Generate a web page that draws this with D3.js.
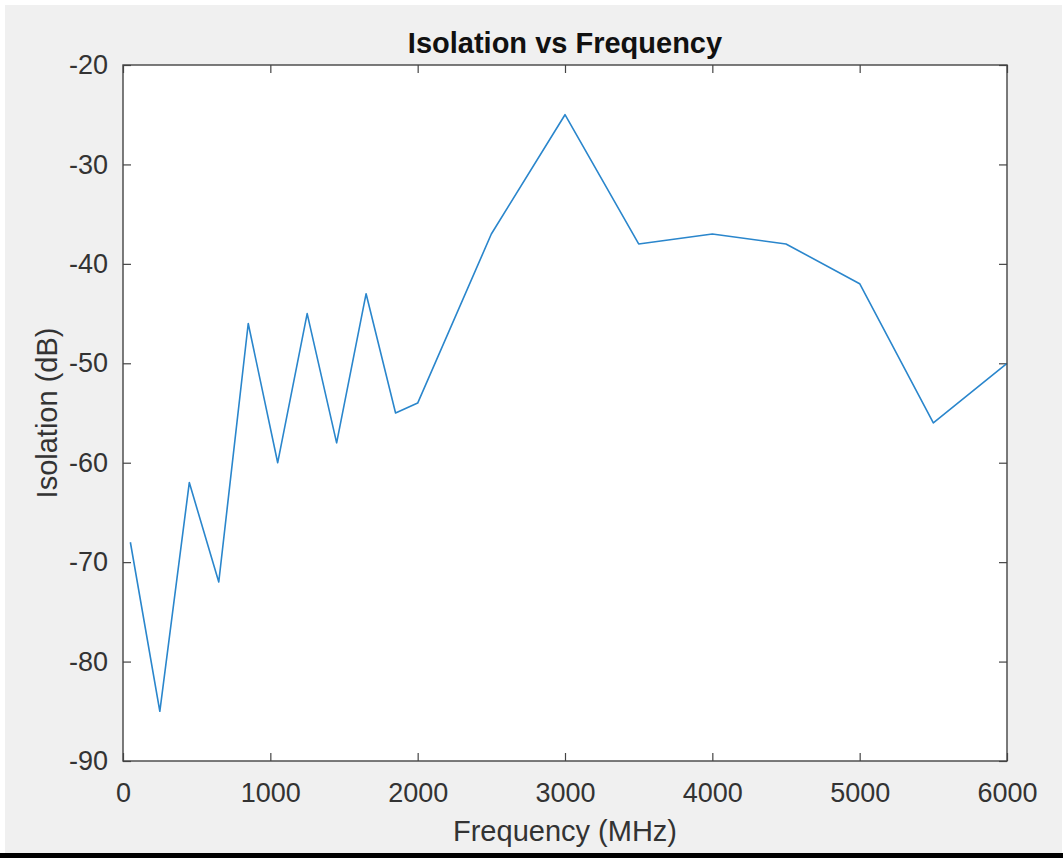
<!DOCTYPE html>
<html>
<head>
<meta charset="utf-8">
<script src="https://cdn.jsdelivr.net/npm/d3@7"></script>
<style>
  body { margin: 0; background: #fff; }
  svg { display: block; font-family: "Liberation Sans", Arial, Helvetica, sans-serif; }
</style>
</head>
<body>
<div id="chart"></div>
<script>
// Data
var freq = [50, 250, 450, 650, 850, 1050, 1250, 1450, 1650, 1850, 2000, 2500, 3000, 3500, 4000, 4500, 5000, 5500, 6000];
var isolation = [-68, -85, -62, -72, -46, -60, -45, -58, -43, -55, -54, -37, -25, -38, -37, -38, -42, -56, -50];
var xTicks = [0, 1000, 2000, 3000, 4000, 5000, 6000];
var yTicks = [-90, -80, -70, -60, -50, -40, -30, -20];

var W = 1063, H = 858;
var margin = {top: 65, right: 56, bottom: 97, left: 123};
var width = W - margin.left - margin.right,
    height = H - margin.top - margin.bottom;

var svg = d3.select("#chart").append("svg")
  .attr("width", W)
  .attr("height", H);

// figure background (matlab grey) + bottom black bar
svg.append("rect").attr("x", 5).attr("y", 5).attr("width", 1057).attr("height", 849).attr("fill", "#f0f0f0");
svg.append("rect").attr("x", 0).attr("y", 853).attr("width", W).attr("height", 5).attr("fill", "#000");

var g = svg.append("g")
  .attr("transform", "translate(" + margin.left + "," + margin.top + ")");

var xScale = d3.scaleLinear().domain([0, 6000]).range([0, width]);
var yScale = d3.scaleLinear().domain([-90, -20]).range([height, 0]);

g.append("rect").attr("width", width).attr("height", height).attr("fill", "#fff");

var axisColor = "#444";
var tickFont = "27px";
// plain hyphen for negatives, like matlab
var fmt = function(d) { return String(d); };

function styleAxis(sel) {
  sel.select(".domain").remove();
  sel.selectAll(".tick line").attr("stroke", axisColor).attr("stroke-width", 1.2);
  sel.selectAll(".tick text").attr("fill", "#333").style("font-size", tickFont);
}

// bottom axis (ticks inside)
g.append("g")
  .attr("transform", "translate(0," + height + ")")
  .call(d3.axisBottom(xScale).tickValues(xTicks).tickSize(-8).tickPadding(22).tickFormat(fmt))
  .call(styleAxis);

// top axis, ticks only
g.append("g")
  .call(d3.axisTop(xScale).tickValues(xTicks).tickSize(-8).tickFormat(""))
  .call(styleAxis);

// left axis
g.append("g")
  .call(d3.axisLeft(yScale).tickValues(yTicks).tickSize(-8).tickPadding(15).tickFormat(fmt))
  .call(styleAxis);

// right axis, ticks only
g.append("g")
  .attr("transform", "translate(" + width + ",0)")
  .call(d3.axisRight(yScale).tickValues(yTicks).tickSize(-8).tickFormat(""))
  .call(styleAxis);

// the data line
var line = d3.line()
  .x(function(d, i) { return xScale(freq[i]); })
  .y(function(d) { return yScale(d); });

g.append("path")
  .datum(isolation)
  .attr("fill", "none")
  .attr("stroke", "#2a86cc")
  .attr("stroke-width", 1.6)
  .attr("stroke-linejoin", "round")
  .attr("d", line);

// box
g.append("rect")
  .attr("width", width).attr("height", height)
  .attr("fill", "none")
  .attr("stroke", axisColor)
  .attr("stroke-width", 1.4);

// title and labels
svg.append("text")
  .attr("x", margin.left + width / 2)
  .attr("y", 53)
  .attr("text-anchor", "middle")
  .attr("font-weight", "bold")
  .style("font-size", "29px")
  .attr("fill", "#111")
  .text("Isolation vs Frequency");

svg.append("text")
  .attr("x", margin.left + width / 2)
  .attr("y", 841)
  .attr("text-anchor", "middle")
  .style("font-size", "29px")
  .attr("fill", "#333")
  .text("Frequency (MHz)");

svg.append("text")
  .attr("transform", "translate(57," + (margin.top + height / 2) + ") rotate(-90)")
  .attr("text-anchor", "middle")
  .style("font-size", "29px")
  .attr("fill", "#333")
  .text("Isolation (dB)");
</script>
</body>
</html>
